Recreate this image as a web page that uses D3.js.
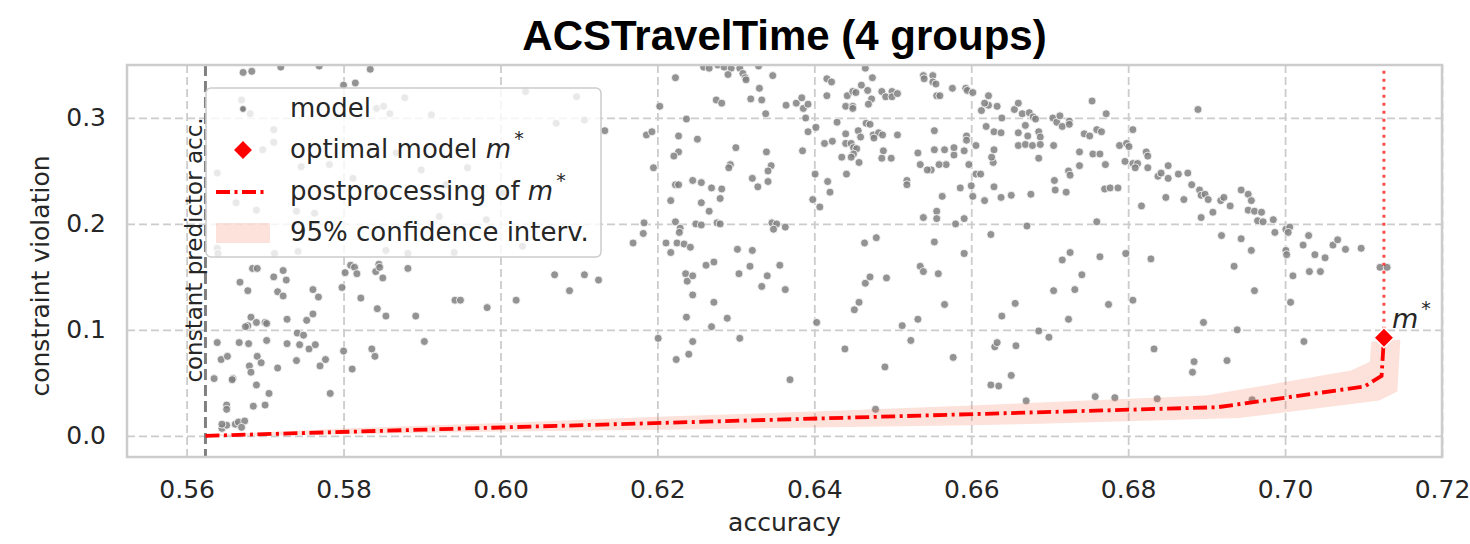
<!DOCTYPE html>
<html>
<head>
<meta charset="utf-8">
<script src="https://cdn.jsdelivr.net/npm/d3@7"></script>
<style>
  body { margin: 0; background: #ffffff; }
</style>
</head>
<body>
<svg id="chart" width="1470" height="544"></svg>
<script>
// ---------- data ----------
const chartTitle = "ACSTravelTime (4 groups)";
const xLabel = "accuracy";
const yLabel = "constraint violation";
const xTicks = [0.56, 0.58, 0.60, 0.62, 0.64, 0.66, 0.68, 0.70, 0.72];
const yTicks = [0.0, 0.1, 0.2, 0.3];
const xDomain = [0.5524, 0.72];
const yDomain = [-0.02, 0.35];

const constantPredictorAcc = 0.5624;
const optimalModel = { acc: 0.7126, viol: 0.0925 };

// postprocessing curve of the optimal model
const postprocAcc  = [0.5624, 0.6914, 0.7101, 0.7123, 0.7126];
const postprocViol = [0.0,    0.027,  0.0465, 0.0566, 0.0925];

// 95% confidence region around the postprocessing curve
const bandUpper = [[0.5624, 0.0008], [0.58, 0.0068], [0.60, 0.012], [0.62, 0.0179], [0.64, 0.0229],
                   [0.66, 0.0285], [0.6687, 0.0315], [0.6899, 0.038], [0.7084, 0.0616], [0.7108, 0.070],
                   [0.7110, 0.089], [0.7147, 0.0906]];
const bandLower = [[0.5624, -0.0005], [0.58, 0.0015], [0.60, 0.004], [0.62, 0.0057], [0.64, 0.0078],
                   [0.66, 0.0100], [0.6687, 0.0113], [0.6941, 0.0167], [0.7120, 0.0333], [0.7143, 0.0418]];

// trained models: [accuracy, constraint violation]
const modelPoints = [
  [0.5639,0.088],[0.5644,0.072],[0.5652,0.075],[0.5635,0.054],[0.5651,0.029],[0.5651,0.025],[0.5645,0.007],[0.5651,0.010],
  [0.5662,0.011],[0.5666,0.013],[0.5674,0.014],[0.5670,0.008],[0.5667,0.088],[0.5679,0.087],[0.5659,0.054],[0.5680,0.066],
  [0.5682,0.060],[0.5689,0.048],[0.5685,0.028],[0.5700,0.029],[0.5705,0.040],[0.5690,0.075],[0.5695,0.069],[0.5716,0.064],
  [0.5702,0.090],[0.5728,0.087],[0.5744,0.086],[0.5756,0.082],[0.5764,0.086],[0.5770,0.066],[0.5777,0.072],[0.5740,0.071],
  [0.5783,0.040],[0.5678,0.104],[0.5682,0.112],[0.5689,0.107],[0.5700,0.107],[0.5702,0.106],[0.5675,0.103],[0.5668,0.145],
  [0.5678,0.137],[0.5684,0.158],[0.5690,0.158],[0.5711,0.150],[0.5723,0.156],[0.5727,0.147],[0.5716,0.136],[0.5723,0.132],
  [0.5728,0.110],[0.5741,0.097],[0.5749,0.095],[0.5753,0.109],[0.5761,0.115],[0.5761,0.138],[0.5768,0.131],[0.5798,0.140],
  [0.5802,0.154],[0.5809,0.161],[0.5814,0.159],[0.5817,0.153],[0.5800,0.080],[0.5811,0.063],[0.5822,0.130],[0.5836,0.082],
  [0.5840,0.075],[0.5841,0.155],[0.5845,0.162],[0.5846,0.159],[0.5850,0.149],[0.5843,0.120],[0.5854,0.113],[0.5882,0.158],
  [0.5892,0.113],[0.5903,0.089],[0.5942,0.128],[0.5949,0.128],[0.5983,0.121],[0.6020,0.128],[0.6069,0.152],[0.6088,0.137],
  [0.6107,0.152],[0.6125,0.147],[0.5658,0.053],[0.5645,0.011],
  [0.5672,0.343],[0.5683,0.344],[0.5720,0.348],[0.5769,0.349],[0.5834,0.346],[0.5800,0.331],[0.5815,0.333],
  [0.5670,0.317],[0.5711,0.289],[0.5711,0.277],[0.5697,0.270],[0.5746,0.254],[0.5782,0.256],[0.5851,0.311],[0.5859,0.304],
  [0.5878,0.319],[0.5912,0.303],[0.6097,0.320],[0.6032,0.325],[0.6071,0.295],[0.6107,0.298],[0.5867,0.267],[0.5899,0.251],
  [0.5958,0.253],[0.5931,0.237],[0.6003,0.229],[0.5844,0.227],[0.5812,0.243],[0.5689,0.213],[0.5740,0.212],[0.5763,0.210],
  [0.5663,0.220],[0.5639,0.248],[0.5639,0.177],[0.5982,0.204],[0.5922,0.207],[0.6028,0.179],[0.5681,0.304],[0.5842,0.309],
  [0.5640,0.172],[0.5712,0.172],[0.5742,0.174],[0.5854,0.175],[0.5882,0.172],[0.5941,0.173],
  [0.6133,0.288],[0.6186,0.284],[0.6193,0.287],[0.6195,0.253],[0.6203,0.311],[0.6223,0.338],
  [0.6259,0.348],[0.6266,0.347],[0.6277,0.350],[0.6285,0.348],[0.6294,0.347],[0.6305,0.347],[0.6329,0.349],[0.6290,0.341],
  [0.6309,0.342],[0.6312,0.338],[0.6313,0.336],[0.6347,0.340],[0.6330,0.328],[0.6275,0.317],[0.6282,0.314],[0.6319,0.318],
  [0.6333,0.317],[0.6338,0.304],[0.6364,0.312],[0.6377,0.314],[0.6384,0.319],[0.6386,0.309],[0.6392,0.313],[0.6389,0.300],
  [0.6416,0.337],[0.6416,0.321],[0.6402,0.291],[0.6392,0.287],[0.6413,0.276],[0.6385,0.269],[0.6237,0.299],[0.6227,0.283],
  [0.6251,0.280],[0.6227,0.268],[0.6221,0.264],[0.6300,0.272],[0.6339,0.268],[0.6293,0.256],[0.6291,0.253],[0.6345,0.255],
  [0.6341,0.250],
  [0.6217,0.222],[0.6223,0.237],[0.6227,0.237],[0.6245,0.241],[0.6256,0.239],[0.6256,0.220],[0.6269,0.234],[0.6282,0.233],
  [0.6280,0.224],[0.6266,0.212],[0.6223,0.202],[0.6229,0.196],[0.6228,0.192],[0.6183,0.201],[0.6182,0.191],[0.6169,0.182],
  [0.6211,0.182],[0.6217,0.173],[0.6225,0.182],[0.6234,0.181],[0.6242,0.178],[0.6249,0.200],[0.6256,0.199],[0.6276,0.201],
  [0.6280,0.200],[0.6302,0.176],[0.6321,0.175],[0.6321,0.243],[0.6328,0.235],[0.6341,0.240],[0.6346,0.201],[0.6352,0.200],
  [0.6348,0.195],[0.6363,0.197],[0.6401,0.247],[0.6417,0.240],[0.6420,0.230],[0.6398,0.223],[0.6407,0.216],
  [0.6236,0.153],[0.6238,0.146],[0.6245,0.151],[0.6245,0.133],[0.6262,0.161],[0.6272,0.164],[0.6272,0.126],[0.6237,0.112],
  [0.6269,0.103],[0.6289,0.111],[0.6304,0.153],[0.6318,0.160],[0.6333,0.141],[0.6340,0.151],[0.6356,0.161],[0.6363,0.138],
  [0.6201,0.092],[0.6224,0.072],[0.6240,0.077],[0.6245,0.089],[0.6305,0.092],[0.6369,0.053],[0.6403,0.107],[0.6439,0.082],
  [0.6451,0.119],[0.6457,0.126],[0.6465,0.144],[0.6471,0.150],[0.6492,0.149],[0.6490,0.065],[0.6478,0.025],[0.6512,0.104],
  [0.6523,0.090],[0.6532,0.110],[0.6535,0.160],[0.6539,0.155],[0.6558,0.153],[0.6566,0.124],[0.6577,0.074],[0.6591,0.172],
  [0.6625,0.048],[0.6635,0.047],[0.6651,0.057],[0.6656,0.125],[0.6639,0.113],[0.6630,0.084],[0.6633,0.088],[0.6657,0.085],
  [0.6670,0.033],[0.6686,0.099],[0.6699,0.093],
  [0.6441,0.247],[0.6464,0.182],[0.6479,0.187],[0.6518,0.241],[0.6518,0.237],[0.6539,0.206],[0.6556,0.212],[0.6556,0.205],
  [0.6563,0.226],[0.6553,0.183],[0.6580,0.200],[0.6591,0.205],[0.6586,0.234],[0.6600,0.236],[0.6602,0.226],[0.6617,0.222],
  [0.6629,0.235],[0.6638,0.225],[0.6651,0.227],[0.6676,0.228],[0.6625,0.190],[0.6671,0.198],[0.6606,0.247],[0.6612,0.247],
  [0.6597,0.256],[0.6628,0.258],[0.6626,0.263],[0.6629,0.270],[0.6606,0.274],[0.6591,0.269],[0.6578,0.265],[0.6578,0.272],
  [0.6566,0.270],[0.6568,0.256],[0.6559,0.256],[0.6549,0.251],[0.6544,0.251],[0.6535,0.256],[0.6532,0.267],[0.6553,0.270],
  [0.6553,0.288],[0.6594,0.283],[0.6594,0.279],[0.6619,0.292],[0.6629,0.287],[0.6638,0.286],[0.6660,0.286],[0.6672,0.283],
  [0.6686,0.287],[0.6688,0.282],[0.6669,0.293],[0.6660,0.274],[0.6669,0.275],[0.6678,0.274],[0.6688,0.275],[0.6686,0.262],
  [0.6639,0.300],[0.6613,0.307],[0.6622,0.312],[0.6633,0.311],[0.6617,0.314],[0.6622,0.321],[0.6655,0.308],[0.6660,0.314],
  [0.6665,0.304],[0.6674,0.305],[0.6679,0.301],[0.6682,0.299],
  [0.6465,0.347],[0.6474,0.338],[0.6422,0.334],[0.6442,0.321],[0.6449,0.325],[0.6453,0.324],[0.6460,0.331],[0.6468,0.326],
  [0.6473,0.318],[0.6469,0.313],[0.6486,0.325],[0.6491,0.320],[0.6499,0.325],[0.6499,0.320],[0.6506,0.323],[0.6440,0.311],
  [0.6449,0.311],[0.6449,0.309],[0.6539,0.340],[0.6540,0.337],[0.6551,0.340],[0.6551,0.334],[0.6555,0.332],[0.6556,0.321],
  [0.6560,0.321],[0.6576,0.328],[0.6593,0.328],[0.6595,0.326],[0.6602,0.324],[0.6429,0.296],[0.6466,0.295],[0.6471,0.294],
  [0.6456,0.288],[0.6440,0.285],[0.6459,0.282],[0.6475,0.284],[0.6482,0.286],[0.6487,0.284],[0.6476,0.281],[0.6506,0.284],
  [0.6423,0.278],[0.6440,0.276],[0.6447,0.276],[0.6450,0.272],[0.6454,0.271],[0.6450,0.266],[0.6435,0.263],[0.6447,0.263],
  [0.6457,0.258],[0.6488,0.269],[0.6486,0.262],[0.6498,0.262],
  [0.6754,0.316],[0.6772,0.304],[0.6889,0.308],[0.6704,0.300],[0.6709,0.296],[0.6713,0.302],[0.6716,0.292],[0.6725,0.297],
  [0.6725,0.294],[0.6705,0.274],[0.6744,0.285],[0.6751,0.283],[0.6760,0.289],[0.6766,0.287],[0.6738,0.268],[0.6755,0.266],
  [0.6764,0.266],[0.6789,0.274],[0.6798,0.276],[0.6801,0.273],[0.6806,0.289],[0.6796,0.259],[0.6806,0.257],[0.6812,0.257],
  [0.6809,0.253],[0.6823,0.268],[0.6825,0.264],[0.6825,0.253],[0.6771,0.256],[0.6738,0.255],[0.6724,0.250],[0.6726,0.246],
  [0.6706,0.241],[0.6707,0.232],[0.6721,0.230],[0.6770,0.233],[0.6777,0.234],[0.6787,0.234],[0.6817,0.217],[0.6760,0.202],
  [0.6838,0.245],[0.6842,0.248],[0.6851,0.255],[0.6851,0.243],[0.6864,0.247],[0.6876,0.248],[0.6881,0.237],[0.6848,0.225],
  [0.6871,0.223],[0.6891,0.232],[0.6893,0.227],[0.6898,0.228],[0.6902,0.223],[0.6893,0.206],[0.6908,0.211],[0.6918,0.222],
  [0.6922,0.225],[0.6930,0.217],[0.6919,0.189],[0.6944,0.232],[0.6953,0.228],[0.6957,0.222],[0.6953,0.213],[0.6961,0.212],
  [0.6970,0.211],[0.6965,0.203],[0.6972,0.202],[0.6985,0.204],[0.6987,0.192],[0.6944,0.186],[0.6957,0.175],[0.7001,0.195],
  [0.7006,0.197],[0.7004,0.192],[0.7030,0.189],[0.7023,0.180],[0.7038,0.171],[0.7051,0.168],[0.7061,0.180],[0.7067,0.185],
  [0.7077,0.176],[0.7097,0.177],[0.7001,0.175],[0.7002,0.171],[0.6726,0.173],[0.6716,0.166],[0.6764,0.169],[0.6797,0.172],
  [0.6829,0.167],
  [0.6741,0.152],[0.6705,0.137],[0.6732,0.138],[0.6775,0.124],[0.6724,0.110],[0.6806,0.128],[0.6833,0.082],[0.6884,0.070],
  [0.6882,0.060],[0.6896,0.107],[0.6926,0.071],[0.6939,0.100],[0.6935,0.160],[0.6961,0.137],[0.7010,0.151],[0.7007,0.126],
  [0.7024,0.089],[0.7031,0.155],[0.7045,0.155],[0.7121,0.159],[0.7130,0.159],[0.6758,0.037],[0.6783,0.036],[0.6837,0.035],
  [0.6958,0.034]
];

const legendLabels = ["model", "optimal model ", "postprocessing of ", "95% confidence interv."];

// ---------- layout ----------
const plot = { left: 127, right: 1442, top: 65, bottom: 457 };
const textFont = "'DejaVu Sans', 'Noto Sans', sans-serif";
const textColor = "#262626";
const gridColor = "#cccccc";
const modelColor = "#808080";
const red = "#ff0000";
const dashDot = "14,4.5,3,4.5";

const svg = d3.select("#chart");
const x = d3.scaleLinear().domain(xDomain).range([plot.left, plot.right]);
const y = d3.scaleLinear().domain(yDomain).range([plot.bottom, plot.top]);

svg.append("defs").append("clipPath").attr("id", "plot-clip")
  .append("rect")
  .attr("x", plot.left).attr("y", plot.top)
  .attr("width", plot.right - plot.left).attr("height", plot.bottom - plot.top);

// ---------- grid + tick labels ----------
const gx = svg.append("g")
  .attr("transform", `translate(0,${plot.bottom})`)
  .call(d3.axisBottom(x).tickValues(xTicks).tickFormat(d3.format(".2f"))
    .tickSize(-(plot.bottom - plot.top)).tickPadding(23));
const gy = svg.append("g")
  .attr("transform", `translate(${plot.left},0)`)
  .call(d3.axisLeft(y).tickValues(yTicks).tickFormat(d3.format(".1f"))
    .tickSize(-(plot.right - plot.left)).tickPadding(21));
[gx, gy].forEach(g => {
  g.select(".domain").remove();
  g.selectAll(".tick line")
    .attr("stroke", gridColor).attr("stroke-width", 1.8).attr("stroke-dasharray", "8,4");
  g.selectAll(".tick text")
    .attr("font-family", textFont).attr("font-size", 25).attr("fill", textColor);
});

const plotArea = svg.append("g").attr("clip-path", "url(#plot-clip)");

// constant predictor accuracy
plotArea.append("line")
  .attr("x1", x(constantPredictorAcc)).attr("x2", x(constantPredictorAcc))
  .attr("y1", plot.top).attr("y2", plot.bottom)
  .attr("stroke", "#808080").attr("stroke-width", 3).attr("stroke-dasharray", "11,5");

// models
plotArea.append("g").selectAll("circle")
  .data(modelPoints)
  .join("circle")
  .attr("cx", d => x(d[0])).attr("cy", d => y(d[1]))
  .attr("r", 4)
  .attr("fill", modelColor).attr("fill-opacity", 0.85)
  .attr("stroke", "#ffffff").attr("stroke-width", 0.8);

// confidence region
const bandPolygon = bandUpper.concat(bandLower.slice().reverse());
plotArea.append("path")
  .datum(bandPolygon)
  .attr("d", d3.line().x(d => x(d[0])).y(d => y(d[1])).curve(d3.curveLinearClosed))
  .attr("fill", "#f06e46").attr("fill-opacity", 0.2).attr("stroke", "none");

// postprocessing curve
const postproc = postprocAcc.map((a, i) => [a, postprocViol[i]]);
plotArea.append("path")
  .datum(postproc)
  .attr("d", d3.line().x(d => x(d[0])).y(d => y(d[1])))
  .attr("fill", "none").attr("stroke", red).attr("stroke-width", 3.8)
  .attr("stroke-dasharray", dashDot);

// accuracy of the optimal model
plotArea.append("line")
  .attr("x1", x(optimalModel.acc)).attr("x2", x(optimalModel.acc))
  .attr("y1", y(optimalModel.viol)).attr("y2", plot.top)
  .attr("stroke", red).attr("stroke-opacity", 0.7).attr("stroke-width", 3)
  .attr("stroke-dasharray", "3,5");

// optimal model marker
const diamond = d3.symbol(d3.symbolSquare, 200);
svg.append("path")
  .attr("d", diamond())
  .attr("transform", `translate(${x(optimalModel.acc)},${y(optimalModel.viol)}) rotate(45)`)
  .attr("fill", red).attr("stroke", "#ffffff").attr("stroke-width", 1.5);

// m* annotation
const mLabel = svg.append("text")
  .attr("x", x(optimalModel.acc) + 8).attr("y", y(optimalModel.viol) - 10)
  .attr("font-family", textFont).attr("font-size", 27).attr("fill", textColor);
mLabel.append("tspan").attr("font-style", "italic").text("m");
mLabel.append("tspan").attr("font-size", 19).attr("dy", -13).attr("dx", 3).text("*");

// ---------- frame ----------
svg.append("rect")
  .attr("x", plot.left).attr("y", plot.top)
  .attr("width", plot.right - plot.left).attr("height", plot.bottom - plot.top)
  .attr("fill", "none").attr("stroke", gridColor).attr("stroke-width", 2.5);

// constant predictor label
svg.append("text")
  .attr("transform", `translate(${x(constantPredictorAcc) - 3},250) rotate(-90)`)
  .attr("text-anchor", "middle")
  .attr("font-family", textFont).attr("font-size", 23).attr("fill", textColor)
  .text("constant predictor acc.");

// ---------- titles ----------
svg.append("text")
  .attr("x", (plot.left + plot.right) / 2).attr("y", 50)
  .attr("text-anchor", "middle")
  .attr("font-family", "'Liberation Sans', Arial, sans-serif")
  .attr("font-weight", "bold").attr("font-size", 42).attr("fill", "#000000")
  .text(chartTitle);

svg.append("text")
  .attr("x", (plot.left + plot.right) / 2).attr("y", 531)
  .attr("text-anchor", "middle")
  .attr("font-family", textFont).attr("font-size", 25).attr("fill", textColor)
  .text(xLabel);

svg.append("text")
  .attr("transform", "translate(49,276) rotate(-90)")
  .attr("text-anchor", "middle")
  .attr("font-family", textFont).attr("font-size", 25).attr("fill", textColor)
  .text(yLabel);

// ---------- legend ----------
const legend = svg.append("g").attr("transform", "translate(206,88)");
legend.append("rect")
  .attr("width", 395).attr("height", 169).attr("rx", 5)
  .attr("fill", "#ffffff").attr("fill-opacity", 0.8)
  .attr("stroke", gridColor).attr("stroke-width", 1.5);

const rowY = [21, 62, 104, 145];
const markerX = 37;
legend.append("circle")
  .attr("cx", markerX).attr("cy", rowY[0]).attr("r", 3.4)
  .attr("fill", modelColor).attr("stroke", "#ffffff").attr("stroke-width", 0.8);
legend.append("path")
  .attr("d", diamond())
  .attr("transform", `translate(${markerX},${rowY[1]}) rotate(45)`)
  .attr("fill", red).attr("stroke", "#ffffff").attr("stroke-width", 1.5);
legend.append("line")
  .attr("x1", 10).attr("x2", 62).attr("y1", rowY[2]).attr("y2", rowY[2])
  .attr("stroke", red).attr("stroke-width", 3.8).attr("stroke-dasharray", dashDot);
legend.append("rect")
  .attr("x", 10).attr("y", rowY[3] - 10).attr("width", 54).attr("height", 20)
  .attr("fill", "#f06e46").attr("fill-opacity", 0.2);

legendLabels.forEach((label, i) => {
  const t = legend.append("text")
    .attr("x", 84).attr("y", rowY[i]).attr("dy", "0.32em")
    .attr("font-family", textFont).attr("font-size", 26).attr("fill", textColor);
  t.append("tspan").text(label);
  if (i === 1 || i === 2) {
    t.append("tspan").attr("font-style", "italic").text("m");
    t.append("tspan").attr("font-size", 19).attr("dy", -13).attr("dx", 3).text("*");
  }
});
</script>
</body>
</html>
